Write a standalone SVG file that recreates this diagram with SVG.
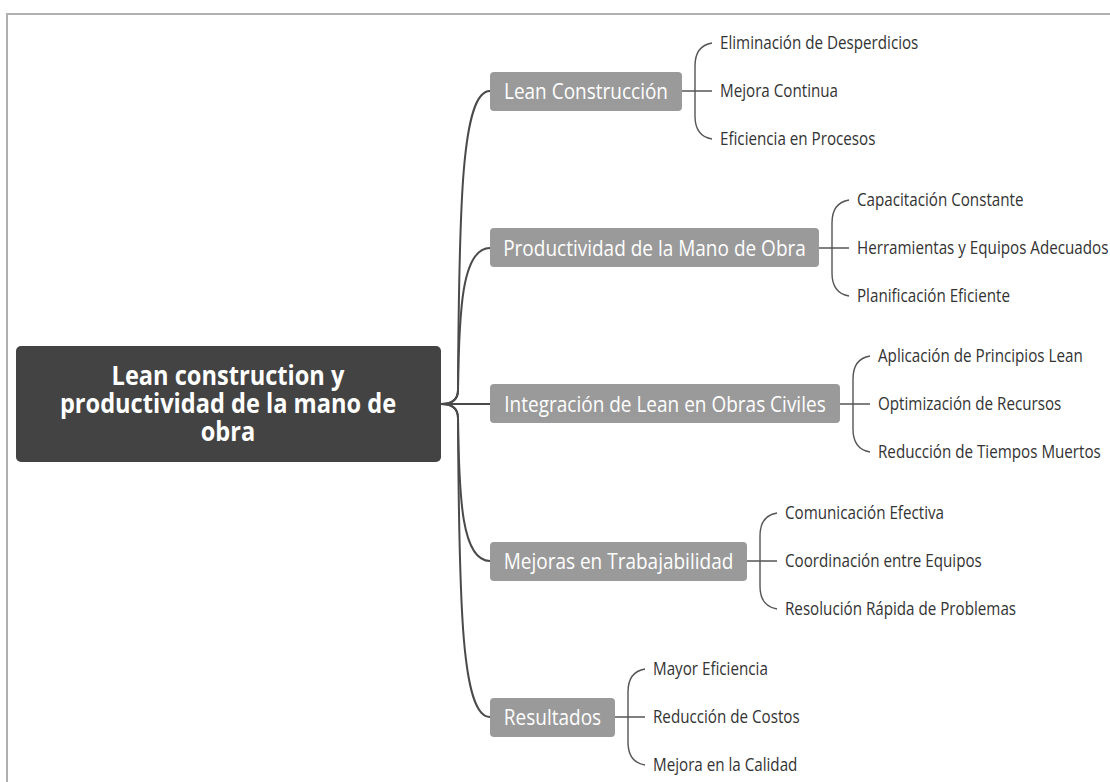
<svg xmlns="http://www.w3.org/2000/svg" width="1110" height="782" viewBox="0 0 1110 782">
<style>
text{font-family:"Open Sans","Noto Sans","Liberation Sans",sans-serif;transform-box:fill-box;transform-origin:center;transform:scaleY(1.15)}
.root{font-size:23.6px;font-weight:700;fill:#fff;text-anchor:middle}
.br{font-size:19px;fill:#fff;text-anchor:middle}
.sub{font-size:15.2px;fill:#333}
.rootbox{fill:#434343}
.brbox{fill:#9a9a9a}
.trunk{fill:none;stroke:#4a4a4a;stroke-width:2}
.twig{fill:none;stroke:#555;stroke-width:1.4}
</style>
<rect width="1110" height="782" fill="#fff"/>
<path d="M7,782 L7,14 L1110,14" fill="none" stroke="#b0b0b0" stroke-width="2"/>
<g id="connectors">
<path class="trunk" d="M441,404 Q458,404 458,390 C459,200 462,91 490,91"/>
<path class="trunk" d="M441,404 Q458,404 458,390 C459,310 462,248 490,248"/>
<path class="trunk" d="M441,404 L490,404"/>
<path class="trunk" d="M441,404 Q458,404 458,418 C459,500 462,561 490,561"/>
<path class="trunk" d="M441,404 Q458,404 458,418 C459,610 462,717 490,717"/>
<path class="twig" d="M682,91 L712,91 M712,43 C700,45 695,53 695,66 L695,116 C695,129 700,137 712,139"/>
<path class="twig" d="M819,248 L849,248 M849,200 C837,202 832,210 832,223 L832,273 C832,286 837,294 849,296"/>
<path class="twig" d="M840,404 L870,404 M870,356 C858,358 853,366 853,379 L853,429 C853,442 858,450 870,452"/>
<path class="twig" d="M747,561 L777,561 M777,513 C765,515 760,523 760,536 L760,586 C760,599 765,607 777,609"/>
<path class="twig" d="M615,717 L645,717 M645,669 C633,671 628,679 628,692 L628,742 C628,755 633,763 645,765"/>
</g>
<g id="root">
<rect class="rootbox" x="16" y="346" width="425" height="116" rx="5"/>
<text class="root" x="228" y="387.25"><tspan x="228">Lean construction y</tspan><tspan x="228" dy="24.35">productividad de la mano de</tspan><tspan x="228" dy="24.35">obra</tspan></text>
</g>
<g id="b1">
<rect class="brbox" x="490" y="72" width="192" height="39" rx="4"/>
<text class="br" x="586" y="98">Lean Construcción</text>
</g>
<g id="b1c">
<text class="sub" x="720" y="48">Eliminación de Desperdicios</text>
<text class="sub" x="720" y="96">Mejora Continua</text>
<text class="sub" x="720" y="144">Eficiencia en Procesos</text>
</g>
<g id="b2">
<rect class="brbox" x="490" y="228" width="329" height="39" rx="4"/>
<text class="br" x="654.5" y="255">Productividad de la Mano de Obra</text>
</g>
<g id="b2c">
<text class="sub" x="857" y="205">Capacitación Constante</text>
<text class="sub" x="857" y="253">Herramientas y Equipos Adecuados</text>
<text class="sub" x="857" y="301">Planificación Eficiente</text>
</g>
<g id="b3">
<rect class="brbox" x="490" y="384" width="350" height="39" rx="4"/>
<text class="br" x="665" y="411">Integración de Lean en Obras Civiles</text>
</g>
<g id="b3c">
<text class="sub" x="878" y="361">Aplicación de Principios Lean</text>
<text class="sub" x="878" y="409">Optimización de Recursos</text>
<text class="sub" x="878" y="457">Reducción de Tiempos Muertos</text>
</g>
<g id="b4">
<rect class="brbox" x="490" y="542" width="257" height="39" rx="4"/>
<text class="br" x="618.5" y="568">Mejoras en Trabajabilidad</text>
</g>
<g id="b4c">
<text class="sub" x="785" y="518">Comunicación Efectiva</text>
<text class="sub" x="785" y="566">Coordinación entre Equipos</text>
<text class="sub" x="785" y="614">Resolución Rápida de Problemas</text>
</g>
<g id="b5">
<rect class="brbox" x="490" y="698" width="125" height="39" rx="4"/>
<text class="br" x="552.5" y="724">Resultados</text>
</g>
<g id="b5c">
<text class="sub" x="653" y="674">Mayor Eficiencia</text>
<text class="sub" x="653" y="722">Reducción de Costos</text>
<text class="sub" x="653" y="770">Mejora en la Calidad</text>
</g>
</svg>
